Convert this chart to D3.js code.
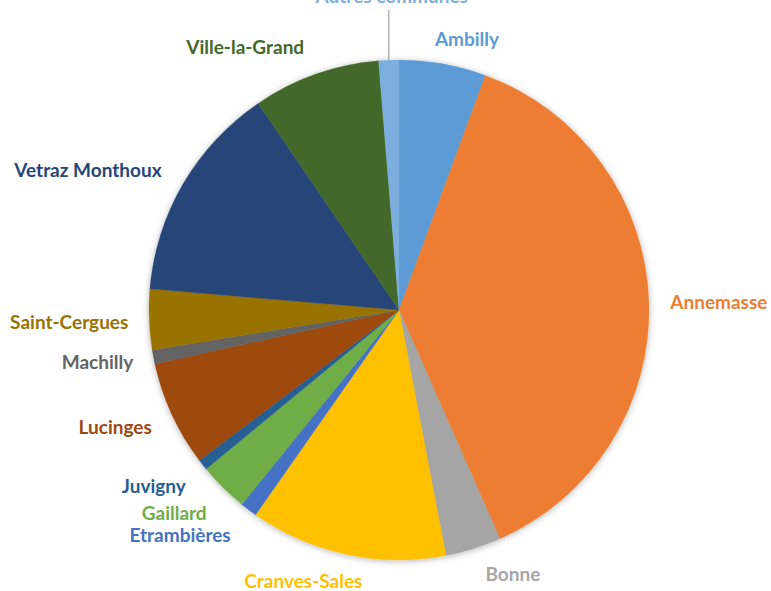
<!DOCTYPE html>
<html><head><meta charset="utf-8">
<script src="https://cdn.jsdelivr.net/npm/d3@7"></script>
<style>html,body{margin:0;padding:0;background:#fff;overflow:hidden}</style>
</head><body>
<svg id="chart" width="771" height="591"></svg>
<script>
const categories = ["Ambilly","Annemasse","Bonne","Cranves-Sales","Etrambières","Gaillard","Juvigny","Lucinges","Machilly","Saint-Cergues","Vetraz Monthoux","Ville-la-Grand","Autres communes"];
const values = [5.6, 37.7, 3.6, 12.7, 1.1, 3.2, 0.7, 6.8, 0.9, 3.9, 14.1, 8.2, 1.3];
const colors = ["#5B9BD5","#ED7D31","#A5A5A5","#FFC000","#4472C4","#70AD47","#255E91","#9E480E","#636363","#997300","#264478","#43682B","#7CAFDD"];
// label placement (polar: angle in degrees clockwise from top, distance from centre)
const labelPolar = [[14.1,279],[88.6,320],[156.7,288],[199.4,288],[224.2,314],[227.9,303],[234.3,302],[247.6,307],[260.2,306],[267.9,330],[294.2,341],[329.6,304],[0,0]];

const svg = d3.select("#chart");
const cx = 399, cy = 310, R = 250;
const defs = svg.append("defs");
const f = defs.append("filter").attr("id","sh").attr("x","-20%").attr("y","-20%").attr("width","140%").attr("height","140%");
f.append("feDropShadow").attr("dx",0).attr("dy",1).attr("stdDeviation",3).attr("flood-color","#000").attr("flood-opacity",0.3);

const data = categories.map((c,i)=>({name:c,value:values[i],color:colors[i],lp:labelPolar[i]}));
const pie = d3.pie().value(d=>d.value).sort(null);
const arcs = pie(data);
const arc = d3.arc().innerRadius(0).outerRadius(R);
const g = svg.append("g").attr("transform",`translate(${cx},${cy})`);
g.append("g").attr("filter","url(#sh)").selectAll("path").data(arcs).join("path")
  .attr("d",arc).attr("fill",d=>d.data.color).attr("stroke",d=>d.data.color).attr("stroke-width",0.3);

const font = "Lato, 'Open Sans', sans-serif";
const fs = 19;
arcs.forEach((a,i)=>{
  const d = a.data;
  if (d.name === "Autres communes") {
    const mid = (a.startAngle+a.endAngle)/2;
    const x = R*Math.sin(mid), y = -R*Math.cos(mid);
    g.append("line").attr("x1",x).attr("y1",y).attr("x2",x).attr("y2",-300).attr("stroke","#A6A6A6").attr("stroke-width",1.3);
    g.append("text").attr("x",x+3).attr("y",-307).attr("text-anchor","middle")
      .attr("font-family",font).attr("font-weight","bold").attr("font-size",fs).attr("fill",d.color).text(d.name);
    return;
  }
  const ang = d.lp[0]*Math.PI/180;
  const x = d.lp[1]*Math.sin(ang), y = -d.lp[1]*Math.cos(ang);
  g.append("text").attr("x",x).attr("y",y).attr("dy","0.35em").attr("text-anchor","middle")
    .attr("font-family",font).attr("font-weight","bold").attr("font-size",fs).attr("fill",d.color).text(d.name);
});
</script>
</body></html>
